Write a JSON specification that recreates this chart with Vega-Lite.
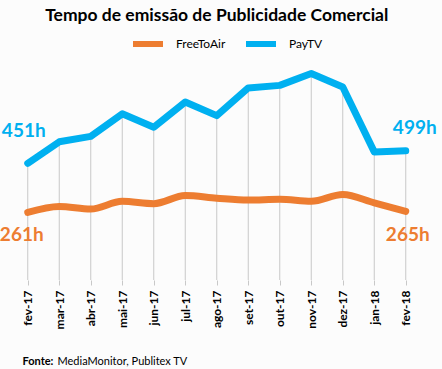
{
  "$schema": "https://vega.github.io/schema/vega-lite/v6.json",
  "width": 409.5,
  "height": 220,
  "autosize": "none",
  "padding": {"left": 12, "top": 60, "right": 20, "bottom": 89},
  "background": "#FCFCFC",
  "title": {"text": "Tempo de emissão de Publicidade Comercial", "font": "Lato", "fontSize": 17.5, "fontWeight": "bold", "color": "#000000", "anchor": "middle", "frame": "group", "offset": 2},
  "config": {"view": {"stroke": null}, "font": "Lato"},
  "data": {"values": [
    {"month": "fev-17", "series": "FreeToAir", "value": 261},
    {"month": "mar-17", "series": "FreeToAir", "value": 284},
    {"month": "abr-17", "series": "FreeToAir", "value": 274},
    {"month": "mai-17", "series": "FreeToAir", "value": 304},
    {"month": "jun-17", "series": "FreeToAir", "value": 295},
    {"month": "jul-17", "series": "FreeToAir", "value": 326},
    {"month": "ago-17", "series": "FreeToAir", "value": 316},
    {"month": "set-17", "series": "FreeToAir", "value": 309},
    {"month": "out-17", "series": "FreeToAir", "value": 312},
    {"month": "nov-17", "series": "FreeToAir", "value": 304},
    {"month": "dez-17", "series": "FreeToAir", "value": 330},
    {"month": "jan-18", "series": "FreeToAir", "value": 298},
    {"month": "fev-18", "series": "FreeToAir", "value": 265},
    {"month": "fev-17", "series": "PayTV", "value": 451},
    {"month": "mar-17", "series": "PayTV", "value": 534},
    {"month": "abr-17", "series": "PayTV", "value": 555},
    {"month": "mai-17", "series": "PayTV", "value": 642},
    {"month": "jun-17", "series": "PayTV", "value": 590},
    {"month": "jul-17", "series": "PayTV", "value": 688},
    {"month": "ago-17", "series": "PayTV", "value": 635},
    {"month": "set-17", "series": "PayTV", "value": 742},
    {"month": "out-17", "series": "PayTV", "value": 752},
    {"month": "nov-17", "series": "PayTV", "value": 798},
    {"month": "dez-17", "series": "PayTV", "value": 746},
    {"month": "jan-18", "series": "PayTV", "value": 495},
    {"month": "fev-18", "series": "PayTV", "value": 499}
  ]},
  "transform": [{"calculate": "datum.value + 'h'", "as": "label"}],
  "encoding": {
    "x": {"field": "month", "type": "nominal",
      "scale": {"type": "point", "padding": 0.5, "domain": ["fev-17","mar-17","abr-17","mai-17","jun-17","jul-17","ago-17","set-17","out-17","nov-17","dez-17","jan-18","fev-18"]},
      "axis": {"labelAngle": -90, "labelFont": "Lato", "labelFontSize": 12, "labelFontWeight": "bold", "labelColor": "#000000", "labelPadding": 5, "domain": false, "grid": false, "ticks": true, "tickSize": 5, "tickColor": "#C8C8C8",
        "title": "MediaMonitor, Publitex TV", "titleFont": "Lato", "titleFontSize": 11, "titleFontWeight": "normal", "titleColor": "#000000", "titleAlign": "left", "titleAnchor": null, "titleBaseline": "alphabetic", "titleX": 45, "titleY": 84}},
    "y": {"field": "value", "type": "quantitative", "scale": {"domain": [0, 850]},
      "axis": {"labels": false, "ticks": false, "domain": false, "grid": false,
        "title": "Fonte:", "titleFont": "Lato", "titleFontSize": 11, "titleFontWeight": "bold", "titleColor": "#000000", "titleAngle": 0, "titleAlign": "left", "titleBaseline": "alphabetic", "titleX": 10, "titleY": 304}}
  },
  "layer": [
    {
      "transform": [{"filter": "datum.series == 'PayTV'"}],
      "mark": {"type": "rule", "color": "#C8C8C8", "strokeWidth": 1},
      "encoding": {"y2": {"datum": 0}}
    },
    {
      "transform": [{"filter": "datum.series == 'FreeToAir'"}],
      "mark": {"type": "line", "strokeWidth": 7, "strokeCap": "round", "strokeJoin": "round", "interpolate": "monotone"},
      "encoding": {
        "color": {"field": "series", "type": "nominal",
          "scale": {"domain": ["FreeToAir", "PayTV"], "range": ["#ED7D31", "#00B0F0"]},
          "legend": {"orient": "none", "direction": "horizontal", "legendX": 118, "legendY": -34, "title": null,
            "symbolType": "stroke", "symbolStrokeWidth": 6, "symbolSize": 900, "labelFont": "Lato", "labelFontSize": 12, "labelColor": "#000000", "labelOffset": 10, "columnPadding": 8}}
      }
    },
    {
      "transform": [{"filter": "datum.series == 'PayTV'"}],
      "mark": {"type": "line", "strokeWidth": 7, "strokeCap": "round", "strokeJoin": "round"},
      "encoding": {"color": {"field": "series", "type": "nominal"}}
    },
    {
      "transform": [{"filter": "datum.series == 'PayTV' && datum.month == 'fev-17'"}],
      "mark": {"type": "text", "font": "Lato", "fontSize": 19, "fontWeight": "bold", "color": "#00B0F0", "dx": -4, "dy": -32},
      "encoding": {"text": {"field": "label"}}
    },
    {
      "transform": [{"filter": "datum.series == 'PayTV' && datum.month == 'fev-18'"}],
      "mark": {"type": "text", "font": "Lato", "fontSize": 19, "fontWeight": "bold", "color": "#00B0F0", "dx": 9, "dy": -23},
      "encoding": {"text": {"field": "label"}}
    },
    {
      "transform": [{"filter": "datum.series == 'FreeToAir' && datum.month == 'fev-17'"}],
      "mark": {"type": "text", "font": "Lato", "fontSize": 19, "fontWeight": "bold", "color": "#ED7D31", "dx": -6, "dy": 23},
      "encoding": {"text": {"field": "label"}}
    },
    {
      "transform": [{"filter": "datum.series == 'FreeToAir' && datum.month == 'fev-18'"}],
      "mark": {"type": "text", "font": "Lato", "fontSize": 19, "fontWeight": "bold", "color": "#ED7D31", "dx": 2, "dy": 24},
      "encoding": {"text": {"field": "label"}}
    }
  ]
}
